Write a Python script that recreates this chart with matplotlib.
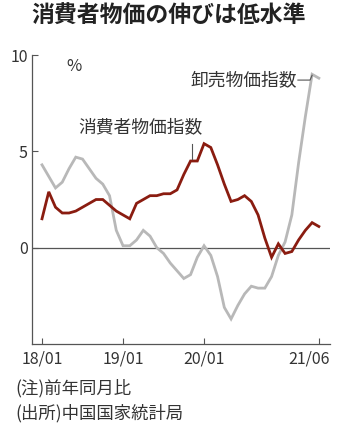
import numpy as np
import matplotlib.pyplot as plt
import matplotlib.transforms as mtransforms

plt.rcParams['font.family'] = ['Noto Sans CJK JP', 'DejaVu Sans']

# monthly, 2018/01 - 2021/06 (year-on-year %)
cpi = [1.5, 2.9, 2.1, 1.8, 1.8, 1.9, 2.1, 2.3, 2.5, 2.5, 2.2, 1.9,
       1.7, 1.5, 2.3, 2.5, 2.7, 2.7, 2.8, 2.8, 3.0, 3.8, 4.5, 4.5,
       5.4, 5.2, 4.3, 3.3, 2.4, 2.5, 2.7, 2.4, 1.7, 0.5, -0.5, 0.2,
       -0.3, -0.2, 0.4, 0.9, 1.3, 1.1]
ppi = [4.3, 3.7, 3.1, 3.4, 4.1, 4.7, 4.6, 4.1, 3.6, 3.3, 2.7, 0.9,
       0.1, 0.1, 0.4, 0.9, 0.6, 0.0, -0.3, -0.8, -1.2, -1.6, -1.4, -0.5,
       0.1, -0.4, -1.5, -3.1, -3.7, -3.0, -2.4, -2.0, -2.1, -2.1, -1.5, -0.4,
       0.3, 1.7, 4.4, 6.8, 9.0, 8.8]
xtick_pos = [0, 12, 24, 41]
xtick_labels = ['18/01', '19/01', '20/01', '21/06']
ytick_vals = [0, 5, 10]

x = np.arange(len(cpi))

fig = plt.figure(figsize=(3.38, 4.30), dpi=100)
ax = fig.add_axes([0.0947, 0.2, 0.882, 0.672])

ax.plot(x, ppi, color='#b8b8b8', lw=2.0, solid_joinstyle='miter')
ax.plot(x, cpi, color='#8a1c10', lw=2.0, solid_joinstyle='miter')
ax.axhline(0, color='#555555', lw=0.9, zorder=0)

ax.set_xlim(-1.48, 42.67)
ax.set_ylim(-5, 10)
for s in ['top', 'right']:
    ax.spines[s].set_visible(False)
for s in ['left', 'bottom']:
    ax.spines[s].set_color('#555555')
    ax.spines[s].set_linewidth(0.9)

ax.set_xticks(xtick_pos)
ax.set_xticklabels(xtick_labels)
ax.set_yticks(ytick_vals)
ax.set_yticklabels([str(v) for v in ytick_vals])
ax.tick_params(axis='both', direction='in', length=4, width=0.8, color='#555555',
               labelsize=11.5, labelcolor='#333333')
ax.tick_params(axis='y', pad=3)
ax.tick_params(axis='x', pad=5)

# last date label sits a bit left of its tick
last = ax.get_xticklabels()[-1]
last.set_transform(last.get_transform() +
                   mtransforms.ScaledTranslation(-10 / 100, 0, fig.dpi_scale_trans))

ax.text(3.6, 9.4, '%', fontsize=12, color='#333333', ha='left', va='center')

# labels with leader lines
ax.text(14.6, 6.25, '消費者物価指数', fontsize=12.8, color='#333333', ha='center', va='center')
ax.plot([22.2, 22.2], [4.6, 5.4], color='#555555', lw=0.8)

ax.text(37.8, 8.7, '卸売物価指数', fontsize=12.8, color='#333333', ha='right', va='center')
ax.plot([37.9, 39.7, 40.0], [8.7, 8.7, 8.95], color='#555555', lw=0.8)

fig.text(0.5, 0.962, '消費者物価の伸びは低水準', fontsize=16.5, fontweight='bold',
         color='#222222', ha='center', va='center')
fig.text(0.045, 0.098, '(注)前年同月比', fontsize=12.5, color='#333333', ha='left', va='center')
fig.text(0.045, 0.04, '(出所)中国国家統計局', fontsize=12.5, color='#333333', ha='left', va='center')

fig.savefig('out.png', dpi=100)
